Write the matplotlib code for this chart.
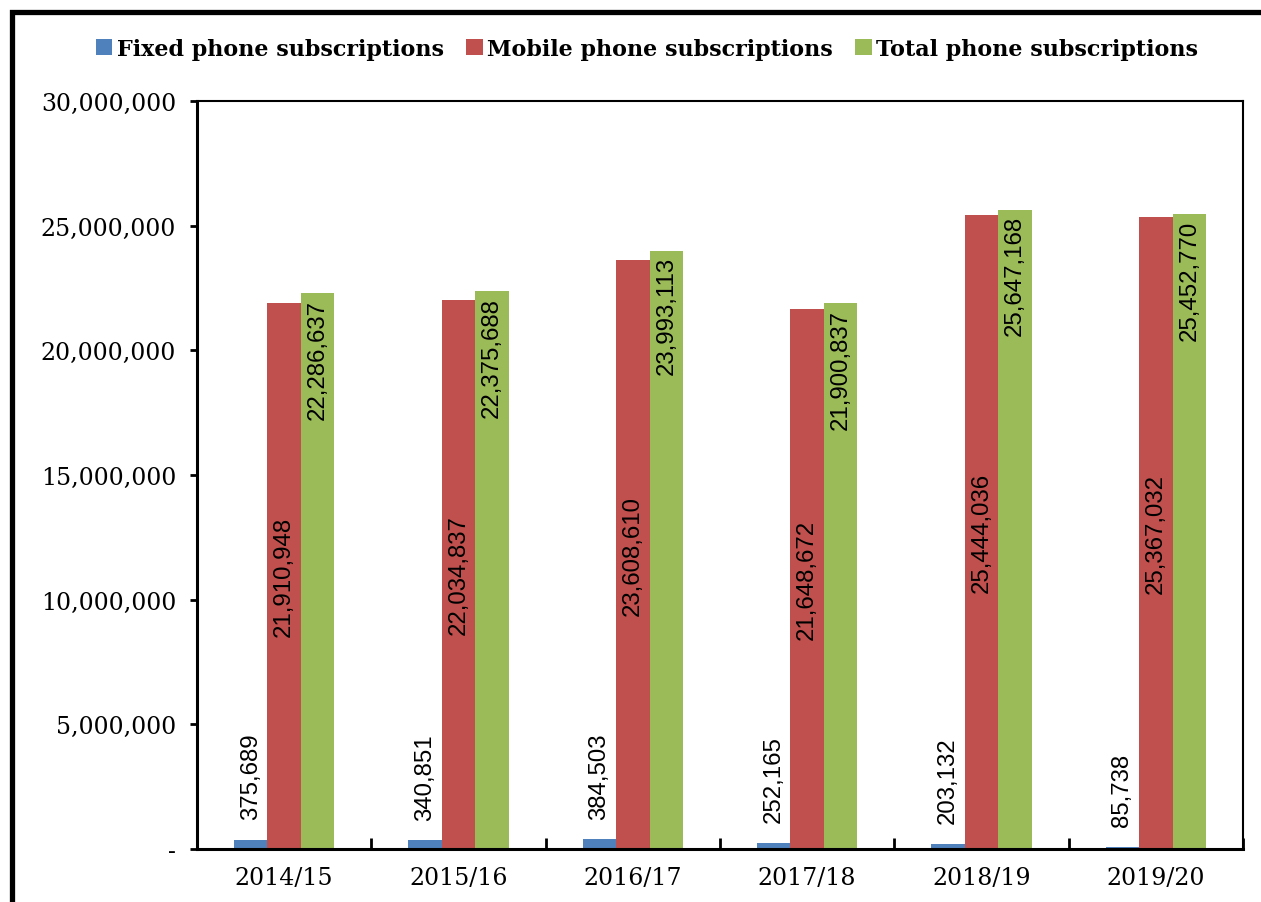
import matplotlib
matplotlib.use('Agg')
import matplotlib.pyplot as plt
from matplotlib.patches import Rectangle
from matplotlib.ticker import FuncFormatter, FixedLocator
import numpy as np

years = ['2014/15', '2015/16', '2016/17', '2017/18', '2018/19', '2019/20']
fixed = [375689, 340851, 384503, 252165, 203132, 85738]
mobile = [21910948, 22034837, 23608610, 21648672, 25444036, 25367032]
total = [22286637, 22375688, 23993113, 21900837, 25647168, 25452770]

series_names = ['Fixed phone subscriptions', 'Mobile phone subscriptions', 'Total phone subscriptions']
colors = ['#4F81BD', '#C0504D', '#9BBB59']

plt.rcParams['font.family'] = 'DejaVu Serif'

fig = plt.figure(figsize=(12.61, 9.03), dpi=100)
ax = fig.add_axes([0.1562, 0.0587, 0.8295, 0.8283])

x = np.arange(len(years))
w = 0.192

b1 = ax.bar(x - w, fixed, w, color=colors[0], label=series_names[0])
b2 = ax.bar(x, mobile, w, color=colors[1], label=series_names[1])
b3 = ax.bar(x + w, total, w, color=colors[2], label=series_names[2])

lab_font = dict(family='Liberation Sans', fontsize=17.3)
for xi, v in zip(x - w, fixed):
    ax.annotate(f'{v:,}', (xi, v), xytext=(0, 15), textcoords='offset points',
                rotation=90, ha='center', va='bottom', **lab_font)
for xi, v in zip(x, mobile):
    ax.text(xi, v / 2, f'{v:,}', rotation=90, ha='center', va='center', **lab_font)
for xi, v in zip(x + w, total):
    ax.annotate(f'{v:,}', (xi, v), xytext=(0, -4), textcoords='offset points',
                rotation=90, ha='center', va='top', **lab_font)

ax.set_xlim(-0.5, len(years) - 0.5)
ax.set_ylim(0, 30000000)
ax.set_yticks(np.arange(0, 30000001, 5000000))
ax.yaxis.set_major_formatter(FuncFormatter(lambda v, p: '-' if v == 0 else f'{int(v):,}'))
ax.tick_params(axis='y', direction='out', length=5, width=2, labelsize=17, pad=10)

ax.xaxis.set_major_locator(FixedLocator(np.arange(-0.5, len(years), 1.0)))
ax.xaxis.set_major_formatter(FuncFormatter(lambda v, p: ''))
ax.set_xticks(x, minor=True)
ax.set_xticklabels(years, minor=True)
ax.tick_params(axis='x', which='major', direction='in', length=8, width=2)
ax.tick_params(axis='x', which='minor', length=0, labelsize=17, pad=12)

for s in ['left', 'bottom']:
    ax.spines[s].set_linewidth(2.2)
for s in ['top', 'right']:
    ax.spines[s].set_linewidth(1.5)

fig.legend(handles=[b1, b2, b3], loc='upper center', bbox_to_anchor=(0.513, 0.979), ncol=3,
           frameon=False, handlelength=0.75, handleheight=0.75, handletextpad=0.2,
           columnspacing=1.0, prop=dict(family='DejaVu Serif', weight='bold', size=16))

fig.add_artist(Rectangle((0.0095, -0.1), 1.2, 1.0855, transform=fig.transFigure,
                         fill=False, edgecolor='black', linewidth=3.8, clip_on=False))

fig.savefig('out.png', dpi=100)
